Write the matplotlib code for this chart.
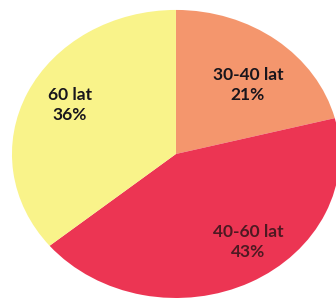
import matplotlib
matplotlib.use("Agg")
import matplotlib.pyplot as plt

# age groups and their shares (%)
labels = ["30-40 lat", "40-60 lat", "60 lat"]
shares = [21, 43, 36]
colors = ["#f4966d", "#ec3553", "#f9f38a"]
text_colors = ["#18151c", "#4e1922", "#18151c"]
# label centres in data units (pie radius = 1)
label_pos = [(0.439, 0.48), (0.439, -0.61), (-0.646, 0.34)]

fig = plt.figure(figsize=(3.36, 2.98), dpi=100)
ax = fig.add_axes([0, 0, 1, 1])

ax.pie(shares, colors=colors, startangle=90, counterclock=False,
       radius=1, center=(0, 0), frame=False,
       wedgeprops=dict(linewidth=0))

for lab, val, (x, y), tc in zip(labels, shares, label_pos, text_colors):
    ax.text(x, y, "{}\n{}%".format(lab, val), ha="center", va="center",
            fontsize=12.5, fontweight="bold", family="Lato", color=tc,
            linespacing=1.35)

# the scanned pie is a little wider than tall and cropped on the right/bottom
ax.set_aspect("auto")
ax.set_xlim(-1.073, 0.976)
ax.set_ylim(-1.0, 1.069)
ax.axis("off")

fig.savefig("out.png", dpi=100)
